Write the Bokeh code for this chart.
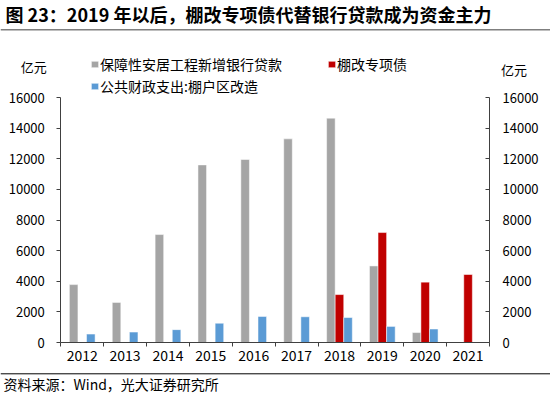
import numpy as np
from bokeh.plotting import figure
from bokeh.models import (Range1d, LinearAxis, FixedTicker, Label, Legend, LegendItem,
                          Span, ColumnDataSource)
from bokeh.transform import dodge
from bokeh.embed import file_html
from bokeh.resources import INLINE

# ---- data ----
years = ["2012", "2013", "2014", "2015", "2016", "2017", "2018", "2019", "2020", "2021"]
bank_loans = [3780, 2620, 7050, 11600, 11950, 13300, 14650, 5000, 650, np.nan]
special_bonds = [np.nan, np.nan, np.nan, np.nan, np.nan, np.nan, 3130, 7180, 3940, 4440]
fiscal_spend = [550, 680, 840, 1260, 1700, 1680, 1630, 1050, 880, np.nan]
y_ticks = [0, 2000, 4000, 6000, 8000, 10000, 12000, 14000, 16000]

title_text = "图 23：2019 年以后，棚改专项债代替银行贷款成为资金主力"
source_text = "资料来源：Wind，光大证券研究所"
unit_text = "亿元"
names = ["保障性安居工程新增银行贷款", "棚改专项债", "公共财政支出:棚户区改造"]
colors = ["#a5a5a5", "#c00000", "#5b9bd5"]

FONT = "Noto Sans CJK SC"

W, H = 550, 393
# plot-area placement on the canvas (pixels)
PL, PR, PT, PB = 60.3, 489.0, 97.0, 342.0
n = len(years)
YMAX = 16000
xpx = (PR - PL) / n
ypx = (PB - PT) / YMAX
x_start = -PL / xpx
x_end = n + (W - PR) / xpx
y_end = YMAX + PT / ypx
y_start = -(H - PB) / ypx

xc = np.arange(n) + 0.5
src = ColumnDataSource(dict(x=xc, loans=bank_loans, bonds=special_bonds, fiscal=fiscal_spend))

p = figure(width=W, height=H, output_backend="svg", toolbar_location=None,
           x_range=Range1d(x_start, x_end), y_range=Range1d(y_start, y_end),
           min_border=0, x_axis_type=None, y_axis_type=None)
p.outline_line_color = None
p.xgrid.visible = False
p.ygrid.visible = False

bw = 0.2
r1 = p.vbar(x=dodge("x", -0.2), top="loans", width=bw, source=src, fill_color=colors[0], line_color="white", line_width=0.5)
r2 = p.vbar(x=dodge("x", 0.0), top="bonds", width=bw, source=src, fill_color=colors[1], line_color="white", line_width=0.5)
r3 = p.vbar(x=dodge("x", 0.2), top="fiscal", width=bw, source=src, fill_color=colors[2], line_color="white", line_width=0.5)

axis_color = "#404040"
# bottom axis
xa = LinearAxis(ticker=FixedTicker(ticks=list(xc), minor_ticks=list(range(n + 1))),
                fixed_location=0, bounds=(0, n))
xa.major_label_overrides = {float(v): y for v, y in zip(xc, years)}
xa.major_tick_out = 0
xa.major_tick_in = 0
xa.minor_tick_out = 4
xa.minor_tick_in = 0
xa.minor_tick_line_color = axis_color
xa.axis_line_color = axis_color
xa.major_label_text_font = FONT
xa.major_label_text_font_size = "14px"
xa.major_label_text_color = "#000000"
xa.major_label_standoff = 3
p.add_layout(xa, "below")

for side, loc in [("left", 0), ("right", n)]:
    ya = LinearAxis(ticker=FixedTicker(ticks=y_ticks, minor_ticks=[]),
                    fixed_location=loc, bounds=(0, YMAX))
    ya.axis_line_color = axis_color
    ya.major_tick_line_color = axis_color
    if side == "left":
        ya.major_tick_out = 4
        ya.major_tick_in = 0
        ya.major_label_standoff = 12
    else:
        ya.major_tick_out = 0
        ya.major_tick_in = 4
        ya.major_label_standoff = 13
    ya.minor_tick_line_color = None
    ya.major_label_text_font = FONT
    ya.major_label_text_font_size = "13px"
    ya.major_label_text_color = "#000000"
    p.add_layout(ya, side)

# legends (screen coords: x from left, y up from bottom of canvas; location = bottom-left)
def add_legend(r, label, x, bottom):
    lg = Legend(items=[LegendItem(label=label, renderers=[r])], location=(x, H - bottom),
                orientation="vertical", glyph_width=9, glyph_height=8, label_height=8,
                label_standoff=1, padding=0, margin=0, spacing=0,
                border_line_alpha=0, background_fill_alpha=0,
                label_text_font=FONT, label_text_font_size="14px", label_text_color="#000000")
    p.add_layout(lg, "center")

add_legend(r1, names[0], 90.1, 74.0)
add_legend(r2, names[1], 327.1, 73.5)
add_legend(r3, names[2], 90.1, 95.7)

def add_label(x, y, text, size, align="left", bold=False):
    lb = Label(x=x, y=H - y, x_units="screen", y_units="screen", text=text,
               text_font=FONT, text_font_size=size, text_align=align,
               text_baseline="middle", text_color="#000000",
               text_font_style="bold" if bold else "normal")
    p.add_layout(lb)

add_label(5, 13, title_text, "18px", bold=True)
add_label(33.3, 66, unit_text, "13px", align="center")
add_label(513.5, 69, unit_text, "13px", align="center")
add_label(3, 383, source_text, "14px")

p.add_layout(Span(location=H - 29.3, location_units="screen", dimension="width",
                  line_color="#7f7f7f", line_width=1.5))
p.add_layout(Span(location=H - 373.3, location_units="screen", dimension="width",
                  line_color="#000000", line_width=1))

open("out.html", "w").write(file_html(p, INLINE))
